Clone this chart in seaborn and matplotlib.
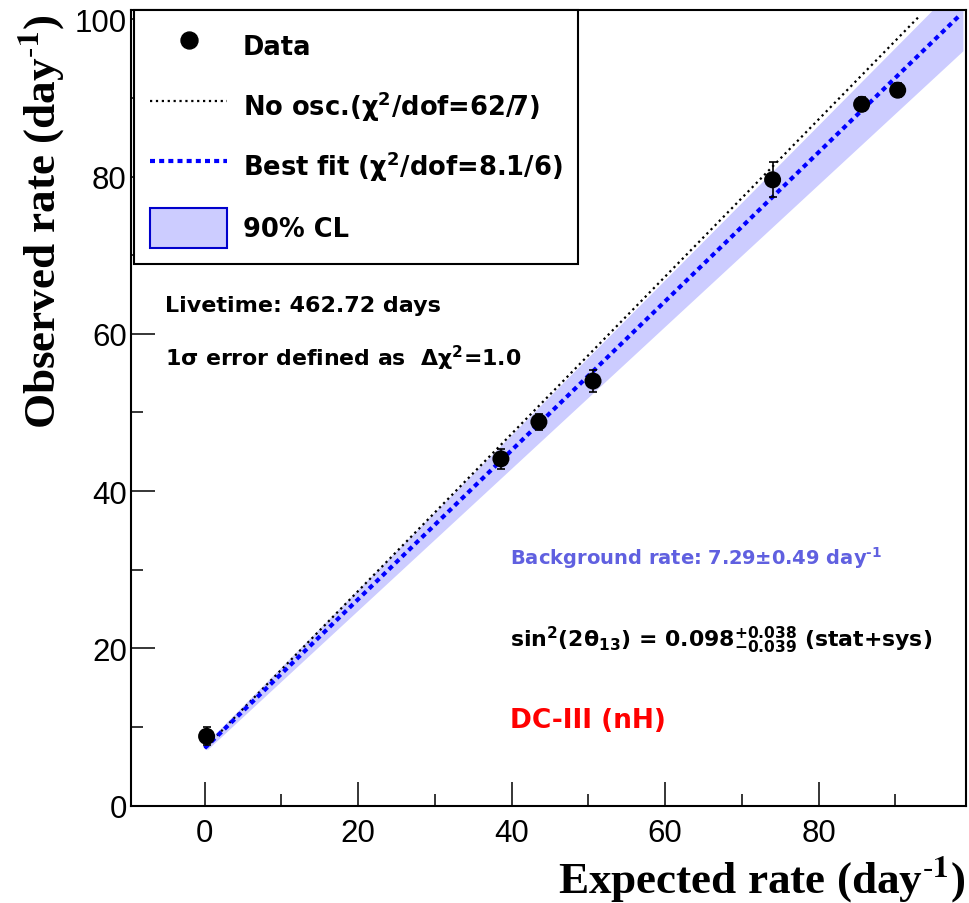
import numpy as np
import pandas as pd
import matplotlib
matplotlib.use("Agg")
import matplotlib.pyplot as plt
from matplotlib.lines import Line2D
from matplotlib.patches import Patch
import seaborn as sns

# ---- data -------------------------------------------------------------
expected = [0.25, 38.6, 43.55, 50.6, 74.0, 85.6, 90.3]      # day^-1
observed = [8.8, 44.1, 48.8, 54.0, 79.6, 89.2, 91.0]        # day^-1
obs_err = [1.15, 1.3, 1.0, 1.4, 2.2, 0.9, 0.9]

background = 7.29            # day^-1, intercept of both models
bestfit_slope = 0.9477       # 1 - deficit from sin^2(2theta13) = 0.098
band_lo_icpt, band_lo_slope = 6.8, 0.903   # 90% CL lower edge
band_hi_icpt, band_hi_slope = 7.8, 0.985   # 90% CL upper edge
noosc_xmax = 93.0
fit_xmax = 98.2
band_xrange = (0.3, 98.8)

xticks = [0, 20, 40, 60, 80]
yticks = [0, 20, 40, 60, 80, 100]

# ---- style ------------------------------------------------------------
sns.set_theme(style="ticks")
plt.rcParams["font.family"] = ["Liberation Sans", "DejaVu Sans"]
plt.rcParams["text.color"] = "black"
plt.rcParams["mathtext.fontset"] = "custom"
plt.rcParams["mathtext.rm"] = "DejaVu Sans:bold"
plt.rcParams["mathtext.it"] = "DejaVu Sans:bold"
plt.rcParams["mathtext.bf"] = "DejaVu Sans:bold"
plt.rcParams["mathtext.sf"] = "DejaVu Sans:bold"

band_color = "#ccccff"
fit_color = "#0000ff"
bold_sans = dict(family="DejaVu Sans", weight="bold")

fig = plt.figure(figsize=(9.69, 9.04), dpi=100)
ax = fig.add_axes([0.13519, 0.10785, 0.86171, 0.87998])
ax.set_facecolor("white")

# 90% CL band
bx = np.linspace(band_xrange[0], band_xrange[1], 200)
ax.fill_between(bx, band_lo_icpt + band_lo_slope * bx,
                band_hi_icpt + band_hi_slope * bx,
                color=band_color, linewidth=0, zorder=1)

# no-oscillation expectation and best fit
x_no = np.linspace(0.0, noosc_xmax, 200)
x_fit = np.linspace(0.0, fit_xmax, 200)
df_no = pd.DataFrame({"x": x_no, "y": background + x_no})
df_fit = pd.DataFrame({"x": x_fit, "y": background + bestfit_slope * x_fit})
sns.lineplot(data=df_no, x="x", y="y", ax=ax, color="black",
             linewidth=1.6, linestyle=":", zorder=2)
sns.lineplot(data=df_fit, x="x", y="y", ax=ax, color=fit_color,
             linewidth=3.0, dashes=False, zorder=3)
ax.lines[-1].set_dashes((1.2, 1.0))

# data points
ax.errorbar(expected, observed, yerr=obs_err, fmt="none", ecolor="black",
            elinewidth=1.2, capsize=3, capthick=1.2, zorder=4)
df_pts = pd.DataFrame({"expected": expected, "observed": observed})
sns.scatterplot(data=df_pts, x="expected", y="observed", ax=ax, color="black",
                s=150, edgecolor="none", zorder=5)

# axes
ax.set_xlim(-9.6, 99.2)
ax.set_ylim(0, 101.2)
ax.set_xticks(xticks)
ax.set_yticks(yticks)
ax.set_xticks(np.arange(10, 100, 20), minor=True)
ax.set_yticks(np.arange(10, 100, 20), minor=True)
ax.tick_params(axis="both", which="major", direction="in", length=17,
               width=1.1, labelsize=22.5, color="black", labelcolor="black")
ax.tick_params(axis="both", which="minor", direction="in", length=8.5,
               width=1.1, color="black")
ax.tick_params(axis="x", which="major", pad=9)
ax.tick_params(axis="y", which="major", pad=3)
ax.tick_params(top=False, right=False, which="both")
ax.set_xlabel("")
ax.set_ylabel("")
for s in ax.spines.values():
    s.set_visible(True)
    s.set_color("black")
    s.set_linewidth(1.5)
ax.grid(False)

# axis titles
title_font = dict(family="Liberation Serif", weight="bold", size=32.5,
                  math_fontfamily="stix", color="black")
fig.text(0.9959, 0.0265, r"Expected rate (day$^{\mathbf{\text{-}1}}$)",
         ha="right", va="center", **title_font)
fig.text(0.0428, 0.9845, r"Observed rate (day$^{\mathbf{\text{-}1}}$)",
         ha="center", va="top", rotation=90, **title_font)

# legend
handles = [
    Line2D([], [], marker="o", color="black", linestyle="none", markersize=12.2),
    Line2D([], [], color="black", linestyle=":", linewidth=1.6),
    Line2D([], [], color=fit_color, linewidth=3.0, dashes=(1.2, 1.0)),
    Patch(facecolor=band_color, edgecolor="#0000cc", linewidth=1.5),
]
labels = [
    "Data",
    r"No osc.(χ$^{2}$/dof=62/7)",
    r"Best fit (χ$^{2}$/dof=8.1/6)",
    "90% CL",
]
leg = ax.legend(handles, labels, loc="upper left", bbox_to_anchor=(0.004, 1.0),
                borderaxespad=0, frameon=True, fancybox=False,
                prop=dict(size=18.5, **bold_sans), labelcolor="black",
                handlelength=3.0, handleheight=2.0, handletextpad=0.6,
                labelspacing=0.82, borderpad=0.62)
leg.get_frame().set_edgecolor("black")
leg.get_frame().set_linewidth(1.5)
leg.get_frame().set_alpha(1.0)
leg.set_zorder(10)

# annotations
txt = dict(transform=ax.transAxes, ha="left", va="baseline", **bold_sans)
ax.text(0.0407, 0.6212, "Livetime: 462.72 days", size=16, color="black", **txt)
ax.text(0.0407, 0.5529, r"1σ error defined as  Δχ$^{2}$=1.0", size=15.8,
        color="black", **txt)
ax.text(0.454, 0.3036, r"Background rate: 7.29±0.49 day$^{\text{-}1}$", size=14,
        color="#6060e0", **txt)
ax.text(0.454, 0.2005,
        r"sin$^{2}$(2θ$_{13}$) = 0.098$^{+0.038}_{-0.039}$ (stat+sys)",
        size=15.8, color="black", **txt)
ax.text(0.454, 0.0987, "DC-III (nH)", size=19, color="#ff0000", **txt)

fig.savefig("out.png", dpi=100, facecolor="white")
